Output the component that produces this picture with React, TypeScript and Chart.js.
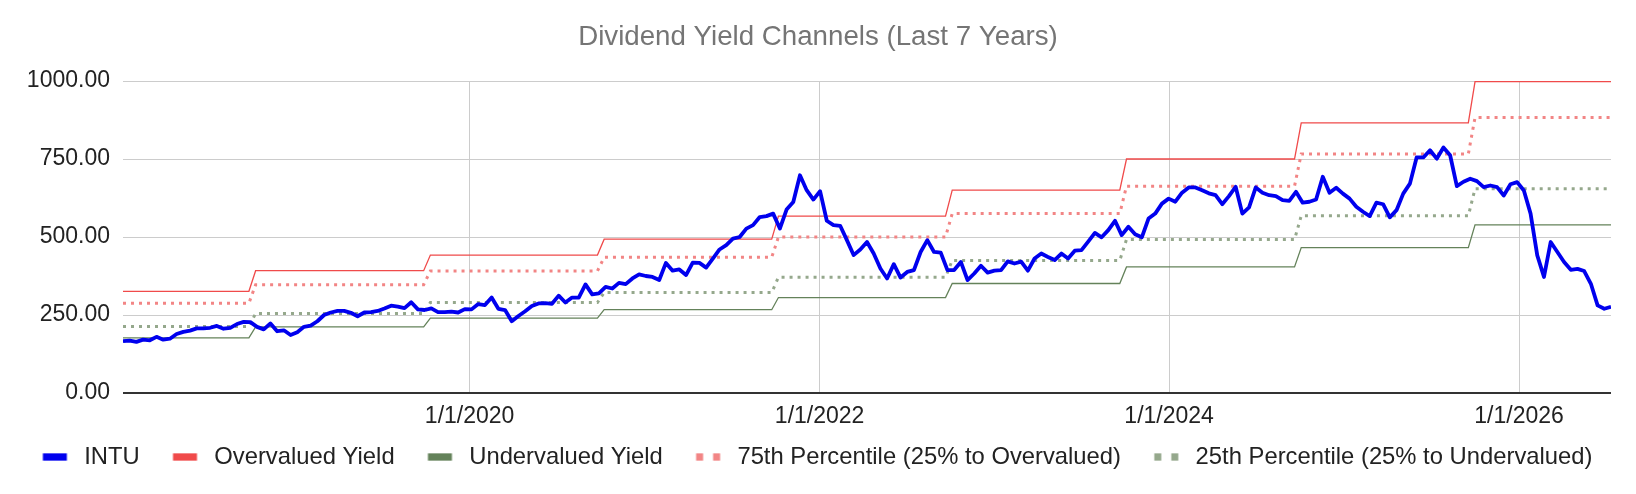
import { useEffect, useRef } from 'react';
import { Chart, registerables } from 'chart.js';

Chart.register(...registerables);

// INTU price, one reading every two weeks from the first date
const seriesStart = '2018-01-07';
const sampleDays = 14;
const intuPrice = [
  166, 168, 164, 171, 169, 180, 171, 174, 189, 196,
  200, 207, 207, 209, 215, 206, 209, 221, 228, 227,
  212, 204, 223, 198, 201, 186, 195, 212, 216, 230,
  250, 258, 263, 263, 257, 246, 258, 259, 263, 271,
  280, 277, 272, 291, 268, 266, 271, 259, 259, 261,
  258, 269, 268, 285, 282, 306, 270, 266, 230, 247,
  262, 279, 287, 288, 286, 312,
  290, 306, 306, 348, 316, 319, 340, 335, 353, 349,
  367, 380, 375, 372, 362, 417, 392, 396, 378, 418,
  417, 402, 431, 460, 474, 495, 500, 527, 538, 564,
  567, 575, 527, 588, 612, 698, 650, 620, 647, 552,
  538, 536, 490, 442, 460, 484, 447, 399, 367, 413,
  370, 388, 394, 452, 490, 452, 450, 394, 394, 420,
  362, 383, 408, 386, 392, 394,
  422, 415, 421, 392, 431, 447, 436, 426, 447, 431,
  456, 458, 485, 513, 499, 522, 552, 506, 533, 509,
  499, 559, 575, 607, 623, 613, 642, 659, 659, 650,
  640, 634, 605, 631, 661, 575, 595, 659, 642, 634,
  631, 618, 616, 645, 610, 613, 620, 693, 642, 658,
  639, 623, 597, 581, 567, 610, 605, 563, 586, 639,
  671, 755, 755, 778, 751, 787, 762, 663, 677, 687,
  679, 660, 665, 660, 633, 669, 676, 649, 575, 441,
  372, 484, 452, 420, 395, 398, 391, 350, 281, 270, 276,
];

// channel levels change once a year (dividend raise), ramping over two weeks
const channelStepDates = [
  '2018-09-27', '2019-09-27', '2020-09-24', '2021-09-23',
  '2022-09-21', '2023-09-20', '2024-09-19', '2025-09-17',
];
const rampDays = 14;
const overvaluedLevels = [326, 392, 442, 493, 567, 650, 750, 866, 998];
const undervaluedLevels = [177, 212, 240, 267, 306, 351, 404, 466, 539];
const pct75Levels = [288, 347, 391, 435, 500, 575, 663, 766, 883];
const pct25Levels = [213, 255, 290, 322, 371, 425, 492, 568, 655];

const xTickDates = ['2020-01-01', '2022-01-01', '2024-01-01', '2026-01-01'];
const yTicks = [0, 250, 500, 750, 1000];

const DAY = 86400000;
const FONT = "'Liberation Sans', Arial, sans-serif";

function toMs(s: string) {
  const [y, m, d] = s.split('-').map(Number);
  return Date.UTC(y, m - 1, d);
}

function fmtDate(ms: number) {
  const d = new Date(ms);
  return `${d.getUTCMonth() + 1}/${d.getUTCDate()}/${d.getUTCFullYear()}`;
}

const startMs = toMs(seriesStart);
const endMs = startMs + (intuPrice.length - 1) * sampleDays * DAY;

function stepSeries(levels: number[]) {
  const pts = [{ x: startMs, y: levels[0] }];
  channelStepDates.forEach((d, i) => {
    const t = toMs(d);
    pts.push({ x: t, y: levels[i] });
    pts.push({ x: t + rampDays * DAY, y: levels[i + 1] });
  });
  pts.push({ x: endMs, y: levels[levels.length - 1] });
  return pts;
}

// legend swatch: drawn off-centre inside a wider transparent canvas so the
// gaps around it match the reference
function makeMarker(color: string, dotted: boolean) {
  const c = document.createElement('canvas');
  c.width = 44;
  c.height = 8;
  const g = c.getContext('2d')!;
  g.fillStyle = color;
  if (dotted) {
    g.fillRect(14.45, 0.35, 7, 7.3);
    g.fillRect(31.45, 0.35, 7, 7.3);
  } else {
    g.fillRect(14.45, 0.35, 24, 7.3);
  }
  return c;
}

// the legend row is centred on the page in the reference; Chart.js puts the
// item padding on its left, so pull it back a little
const legendNudge = {
  id: 'legendNudge',
  afterLayout(chart: Chart) {
    const lg = (chart as any).legend;
    if (lg) {
      lg.left -= 7.5;
      lg.right -= 7.5;
    }
  },
};

export default function App() {
  const canvasRef = useRef<HTMLCanvasElement>(null);
  const chartRef = useRef<Chart | null>(null);

  useEffect(() => {
    if (!canvasRef.current) return;
    if (chartRef.current) chartRef.current.destroy();

    const series = [
      { label: 'INTU', color: '#0000ee', dotted: false },
      { label: 'Overvalued Yield', color: '#f04a4a', dotted: false },
      { label: 'Undervalued Yield', color: '#64825a', dotted: false },
      { label: '75th Percentile (25% to Overvalued)', color: '#f28585', dotted: true },
      { label: '25th Percentile (25% to Undervalued)', color: '#95a88c', dotted: true },
    ];

    const intuPoints = intuPrice.map((v, i) => ({ x: startMs + i * sampleDays * DAY, y: v }));

    chartRef.current = new Chart(canvasRef.current, {
      type: 'line',
      data: {
        datasets: [
          {
            label: series[0].label,
            data: intuPoints,
            borderColor: series[0].color,
            borderWidth: 3.8,
            borderJoinStyle: 'round',
            pointRadius: 0,
          },
          {
            label: series[1].label,
            data: stepSeries(overvaluedLevels),
            borderColor: series[1].color,
            borderWidth: 1.3,
            pointRadius: 0,
          },
          {
            label: series[2].label,
            data: stepSeries(undervaluedLevels),
            borderColor: series[2].color,
            borderWidth: 1.3,
            pointRadius: 0,
          },
          {
            label: series[3].label,
            data: stepSeries(pct75Levels),
            borderColor: series[3].color,
            borderWidth: 3,
            borderDash: [3, 5],
            pointRadius: 0,
          },
          {
            label: series[4].label,
            data: stepSeries(pct25Levels),
            borderColor: series[4].color,
            borderWidth: 3,
            borderDash: [3, 5],
            pointRadius: 0,
          },
        ],
      },
      plugins: [legendNudge],
      options: {
        responsive: false,
        animation: false,
        layout: { padding: { left: 0, right: 0, top: 0, bottom: 15.1 } },
        plugins: {
          title: {
            display: true,
            text: 'Dividend Yield Channels (Last 7 Years)',
            color: '#757575',
            font: { family: FONT, size: 27.7, weight: 'normal' },
            padding: { top: 20.9, bottom: 26.86 },
          },
          legend: {
            position: 'bottom',
            labels: {
              usePointStyle: true,
              pointStyleWidth: 43.7,
              padding: 19,
              color: '#222222',
              font: { family: FONT, size: 23.8 },
              generateLabels: (chart) =>
                chart.data.datasets.map((ds, i) => ({
                  text: ds.label as string,
                  fillStyle: series[i].color,
                  strokeStyle: series[i].color,
                  lineWidth: 0,
                  pointStyle: makeMarker(series[i].color, series[i].dotted),
                  hidden: !chart.isDatasetVisible(i),
                  datasetIndex: i,
                  fontColor: '#222222',
                })),
            },
          },
          tooltip: { enabled: false },
        },
        scales: {
          x: {
            type: 'linear',
            min: startMs,
            max: endMs,
            afterBuildTicks: (scale) => {
              scale.ticks = xTickDates.map((d) => ({ value: toMs(d) }));
            },
            afterFit: (scale) => {
              scale.height = 33.1;
            },
            ticks: {
              callback: (v) => fmtDate(Number(v)),
              color: '#222222',
              font: { family: FONT, size: 23 },
              padding: 10,
              maxRotation: 0,
              autoSkip: false,
            },
            grid: { color: '#cccccc', lineWidth: 1, drawTicks: false },
            border: { display: false },
          },
          y: {
            min: 0,
            max: 1000,
            afterBuildTicks: (scale) => {
              scale.ticks = yTicks.map((v) => ({ value: v }));
            },
            afterFit: (scale) => {
              scale.width = 123;
            },
            ticks: {
              callback: (v) => Number(v).toFixed(2),
              color: '#222222',
              font: { family: FONT, size: 23 },
              padding: 13,
            },
            grid: {
              color: (ctx) => (ctx.tick && ctx.tick.value === 0 ? '#333333' : '#cccccc'),
              lineWidth: (ctx) => (ctx.tick && ctx.tick.value === 0 ? 2 : 1),
              drawTicks: false,
            },
            border: { display: false },
          },
          // empty right-hand axis, only reserves the margin right of the plot
          yRight: {
            position: 'right',
            display: true,
            afterFit: (scale) => {
              scale.width = 25;
            },
            ticks: { display: false },
            grid: { display: false },
            border: { display: false },
          },
        },
      },
    });

    return () => {
      if (chartRef.current) {
        chartRef.current.destroy();
        chartRef.current = null;
      }
    };
  }, []);

  return (
    <div style={{ position: 'absolute', left: 0, top: 0, width: 1636, height: 494, background: '#ffffff' }}>
      <canvas ref={canvasRef} width={1636} height={494} style={{ display: 'block' }} />
    </div>
  );
}
